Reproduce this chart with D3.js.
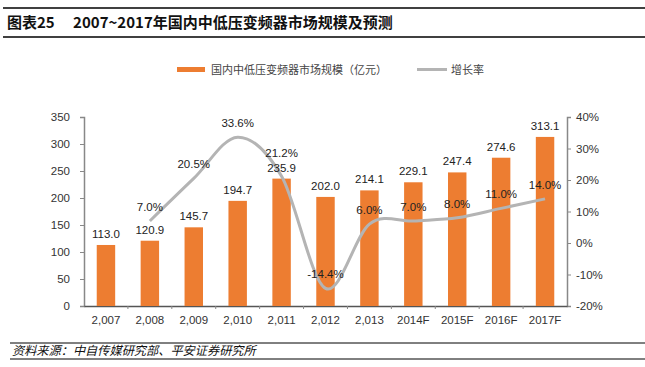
<!DOCTYPE html>
<html>
<head>
<meta charset="utf-8">
<script src="https://cdn.jsdelivr.net/npm/d3@7"></script>
<style>
  body { margin: 0; background: #fff; }
  text { font-family: "Liberation Sans", Arial, "Noto Sans CJK SC", sans-serif; }
</style>
</head>
<body>
<svg id="chart" width="645" height="367"></svg>
<script>
// données
const years = ["2,007", "2,008", "2,009", "2,010", "2,011", "2,012", "2,013", "2014F", "2015F", "2016F", "2017F"]
const marketSize = [113.0, 120.9, 145.7, 194.7, 235.9, 202.0, 214.1, 229.1, 247.4, 274.6, 313.1]
const growth = [null, 7.0, 20.5, 33.6, 21.2, -14.4, 6.0, 7.0, 8.0, 11.0, 14.0]
const leftTicks = [0, 50, 100, 150, 200, 250, 300, 350]
const rightTicks = [-20, -10, 0, 10, 20, 30, 40]

const svg = d3.select("#chart")
const cjk = '"Noto Sans CJK SC", "Liberation Sans", sans-serif'

// Titre
svg.append("line").attr("x1", 3).attr("x2", 645).attr("y1", 8).attr("y2", 8)
    .attr("stroke", "#000").attr("stroke-width", 1.5)
svg.append("line").attr("x1", 3).attr("x2", 645).attr("y1", 37).attr("y2", 37)
    .attr("stroke", "#000").attr("stroke-width", 1.5)
svg.append("text").attr("x", 7).attr("y", 28)
    .style("font-family", cjk).style("font-weight", "bold").style("font-size", "15px")
    .attr("fill", "#111")
    .text("图表25\u3000 2007~2017年国内中低压变频器市场规模及预测")

// Source
svg.append("line").attr("x1", 10).attr("x2", 645).attr("y1", 343).attr("y2", 343)
    .attr("stroke", "#000").attr("stroke-width", 1)
svg.append("line").attr("x1", 10).attr("x2", 645).attr("y1", 359).attr("y2", 359)
    .attr("stroke", "#000").attr("stroke-width", 1)
svg.append("text").attr("x", 12).attr("y", 355)
    .style("font-family", cjk).style("font-style", "italic").style("font-size", "12.2px")
    .attr("fill", "#111")
    .text("资料来源：中自传媒研究部、平安证券研究所")

// Légende
const legend = svg.append("g").style("font-family", cjk).style("font-size", "11px")
legend.append("rect").attr("x", 177).attr("y", 67).attr("width", 28).attr("height", 5).attr("fill", "#ED7D31")
legend.append("text").attr("x", 211).attr("y", 73.5).attr("fill", "#444").text("国内中低压变频器市场规模（亿元）")
legend.append("line").attr("x1", 417).attr("x2", 447).attr("y1", 69.5).attr("y2", 69.5)
    .attr("stroke", "#b4b4b4").attr("stroke-width", 3)
legend.append("text").attr("x", 451).attr("y", 73.5).attr("fill", "#444").text("增长率")

// Echelles
const plotLeft = 84, plotRight = 567, plotTop = 117, plotBottom = 306

const x = d3.scaleBand().domain(years).range([plotLeft, plotRight]).paddingInner(0.58).paddingOuter(0.29)
const xPoint = d3.scalePoint().domain(years).range([plotLeft, plotRight]).padding(0.5)
const yL = d3.scaleLinear().domain([0, 350]).range([plotBottom, plotTop])
const yR = d3.scaleLinear().domain([-20, 40]).range([plotBottom, plotTop])

// Axes
const axisL = svg.append("g").attr("transform", `translate(${plotLeft},0)`)
    .call(d3.axisLeft(yL).tickValues(leftTicks).tickSize(4).tickPadding(10))
const axisR = svg.append("g").attr("transform", `translate(${plotRight},0)`)
    .call(d3.axisRight(yR).tickValues(rightTicks).tickSize(4).tickPadding(5).tickFormat(d => d + "%"))
const axisB = svg.append("g").attr("transform", `translate(0,${plotBottom})`)
    .call(d3.axisBottom(x).tickSize(0).tickPadding(10))

;[axisL, axisR, axisB].forEach(a => {
    a.select(".domain").attr("stroke", "#888").attr("stroke-width", 1.5)
    a.selectAll(".tick line").attr("stroke", "#888")
    a.selectAll("text").style("font-size", "11.5px").attr("fill", "#333")
})
axisB.select(".domain").attr("stroke", "#555")

// petits traits entre catégories
const step = x.step()
svg.append("g").selectAll("line")
    .data(years.slice(1))
    .join("line")
    .attr("x1", d => x(d) - step * x.paddingInner() / 2)
    .attr("x2", d => x(d) - step * x.paddingInner() / 2)
    .attr("y1", plotBottom).attr("y2", plotBottom + 3)
    .attr("stroke", "#888")

// Barres
svg.append("g").selectAll("rect")
    .data(marketSize)
    .join("rect")
    .attr("x", (d, i) => x(years[i]))
    .attr("y", d => yL(d))
    .attr("width", x.bandwidth())
    .attr("height", d => plotBottom - yL(d))
    .attr("fill", "#ED7D31")

// Courbe
const pts = growth.map((g, i) => ({ year: years[i], g, i })).filter(d => d.g !== null)
const line = d3.line()
    .x(d => xPoint(d.year))
    .y(d => yR(d.g))
    .curve(d3.curveCardinal.tension(0))
svg.append("path")
    .datum(pts)
    .attr("d", line)
    .attr("fill", "none")
    .attr("stroke", "#b4b4b4")
    .attr("stroke-width", 3)

// Etiquettes
const barLabelY = d => yL(d) - 7
svg.append("g").selectAll("text")
    .data(marketSize)
    .join("text")
    .attr("x", (d, i) => xPoint(years[i]))
    .attr("y", barLabelY)
    .attr("text-anchor", "middle")
    .style("font-size", "11.5px")
    .attr("fill", "#222")
    .text(d => d.toFixed(1))

// décalage si l'étiquette touche celle de la barre
const growthLabelY = d => {
    const y = yR(d.g) - 10
    const by = barLabelY(marketSize[d.i])
    return Math.abs(y - by) < 14 ? by - 15 : y
}
svg.append("g").selectAll("text")
    .data(pts)
    .join("text")
    .attr("x", d => xPoint(d.year))
    .attr("y", growthLabelY)
    .attr("text-anchor", "middle")
    .style("font-size", "11.5px")
    .attr("fill", "#222")
    .text(d => d.g.toFixed(1) + "%")
</script>
</body>
</html>
